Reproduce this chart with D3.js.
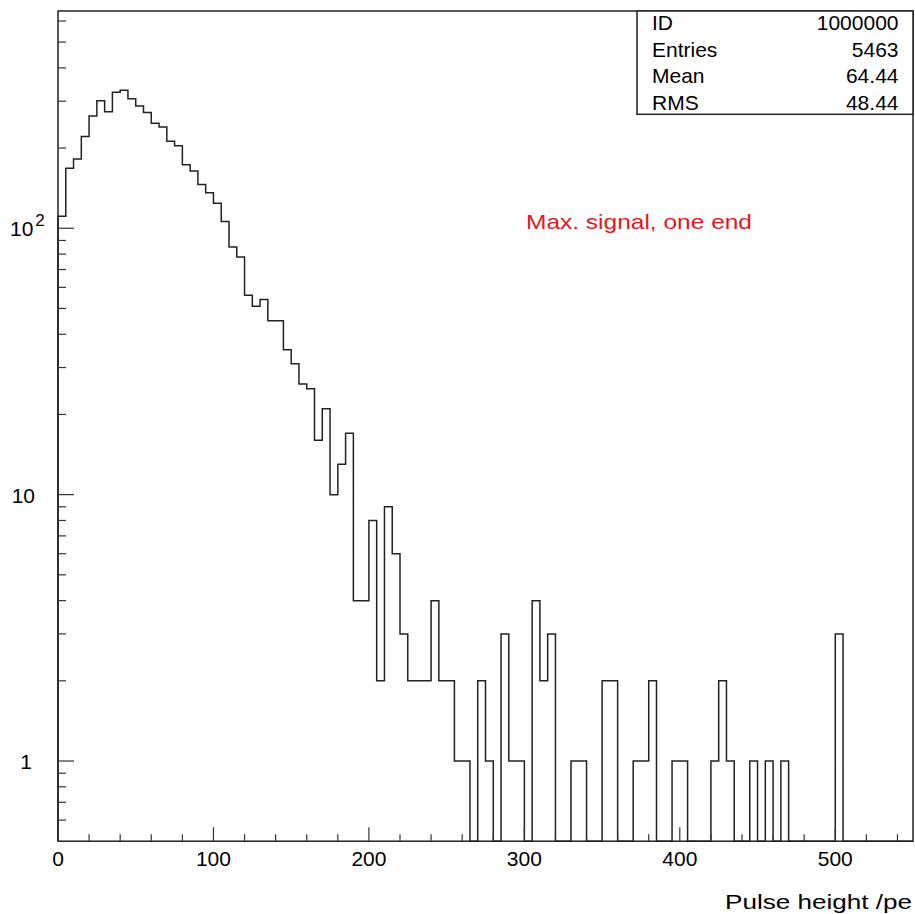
<!DOCTYPE html>
<html>
<head>
<meta charset="utf-8">
<script src="https://cdn.jsdelivr.net/npm/d3@7"></script>
<style>
  html, body { margin: 0; padding: 0; background: #fff; }
  svg { display: block; }
  text { font-family: "Liberation Sans", "DejaVu Sans", sans-serif; fill: #000; }
</style>
</head>
<body>
<svg id="chart" width="915" height="914"></svg>
<script>
// Histogram contents: pulse height in photoelectrons, 5 pe bins from 0 to 550
const binWidth = 5;
const xDomain = [0, 550];
const counts = [
  111, 168, 182, 221, 264, 301, 274, 324, 330, 306,
  288, 272, 248, 240, 212, 204, 173, 164, 146, 136,
  124, 106, 85, 78, 56, 51, 54, 45, 45, 35,
  31, 26, 25, 16, 21, 10, 13, 17, 4, 4,
  8, 2, 9, 6, 3, 2, 2, 2, 4, 2,
  2, 1, 1, 0, 2, 1, 0, 3, 1, 1,
  0, 4, 2, 3, 0, 0, 1, 1, 0, 0,
  2, 2, 0, 0, 1, 1, 2, 0, 0, 1,
  1, 0, 0, 0, 1, 2, 1, 0, 0, 1,
  0, 1, 0, 1, 0, 0, 0, 0, 0, 0,
  3, 0, 0, 0, 0, 0, 0, 0, 0, 0
];
const yDomain = [0.5, 654];

// Axis tick values and labels
const xMajorTicks = [0, 100, 200, 300, 400, 500];
const xMinorTicks = [20, 40, 60, 80, 120, 140, 160, 180, 220, 240, 260, 280, 320, 340, 360, 380, 420, 440, 460, 480, 520, 540];
const yMajorTicks = [1, 10, 100];
const yMinorTicks = [0.6, 0.7, 0.8, 0.9, 2, 3, 4, 5, 6, 7, 8, 9, 20, 30, 40, 50, 60, 70, 80, 90, 200, 300, 400, 500, 600];

// Statistics box
const statNames = ["ID", "Entries", "Mean", "RMS"];
const statValues = ["1000000", "5463", "64.44", "48.44"];

const titleX = "Pulse height /pe";
const note = "Max. signal, one end";

const svg = d3.select("#chart");
const L = 58, R = 913, T = 11, B = 841.2;

const x = d3.scaleLinear().domain(xDomain).range([L, R]);
const y = d3.scaleLog().domain(yDomain).range([B, T]);

// Step outline of the histogram; empty bins fall to the lower edge
const pts = [[x(0), B]];
counts.forEach((c, i) => {
  const yy = c > 0 ? y(Math.max(c, yDomain[0])) : B;
  pts.push([x(i * binWidth), yy]);
  pts.push([x((i + 1) * binWidth), yy]);
});
pts.push([x(counts.length * binWidth), B]);

svg.append("path")
  .attr("d", d3.line()(pts))
  .attr("fill", "none")
  .attr("stroke", "#222")
  .attr("stroke-width", 1.5)
  .attr("stroke-linejoin", "miter");

// Frame
svg.append("rect")
  .attr("x", L).attr("y", T)
  .attr("width", R - L).attr("height", B - T)
  .attr("fill", "none")
  .attr("stroke", "#222")
  .attr("stroke-width", 1.5);

// X axis ticks
const gx = svg.append("g");
gx.selectAll("line.maj").data(xMajorTicks).join("line")
  .attr("x1", d => x(d)).attr("x2", d => x(d))
  .attr("y1", B).attr("y2", B - 14)
  .attr("stroke", "#333").attr("stroke-width", 1.2);
gx.selectAll("line.min").data(xMinorTicks).join("line")
  .attr("x1", d => x(d)).attr("x2", d => x(d))
  .attr("y1", B).attr("y2", B - 7)
  .attr("stroke", "#333").attr("stroke-width", 1.2);
gx.selectAll("text").data(xMajorTicks).join("text")
  .attr("x", d => x(d)).attr("y", 866)
  .attr("text-anchor", "middle")
  .attr("font-size", 21)
  .text(d => d);

// Y axis ticks
const gy = svg.append("g");
gy.selectAll("line.maj").data(yMajorTicks).join("line")
  .attr("x1", L).attr("x2", L + 16)
  .attr("y1", d => y(d)).attr("y2", d => y(d))
  .attr("stroke", "#333").attr("stroke-width", 1.2);
gy.selectAll("line.min").data(yMinorTicks).join("line")
  .attr("x1", L).attr("x2", L + 8)
  .attr("y1", d => y(d)).attr("y2", d => y(d))
  .attr("stroke", "#333").attr("stroke-width", 1.2);

// Y labels: 1, 10, 10^2
gy.append("text").attr("x", 32).attr("y", y(1) + 8)
  .attr("text-anchor", "end").attr("font-size", 21).text("1");
gy.append("text").attr("x", 35).attr("y", y(10) + 8)
  .attr("text-anchor", "end").attr("font-size", 21).text("10");
const t100 = gy.append("text").attr("x", 10).attr("y", y(100) + 8).attr("font-size", 21);
t100.append("tspan").text("10");
t100.append("tspan").attr("dx", 2).attr("dy", -10).attr("font-size", 17).text("2");

// X axis title
svg.append("text")
  .attr("x", 912).attr("y", 909)
  .attr("text-anchor", "end")
  .attr("font-size", 21)
  .attr("textLength", 187).attr("lengthAdjust", "spacingAndGlyphs")
  .text(titleX);

// Annotation
svg.append("text")
  .attr("x", 526).attr("y", 229)
  .attr("font-size", 21)
  .attr("textLength", 226).attr("lengthAdjust", "spacingAndGlyphs")
  .style("fill", "#e8141e")
  .text(note);

// Statistics box
const boxL = 637, boxT = 11, boxR = 913, boxB = 114.3;
svg.append("rect")
  .attr("x", boxL).attr("y", boxT)
  .attr("width", boxR - boxL).attr("height", boxB - boxT)
  .attr("fill", "#fff").attr("stroke", "#222").attr("stroke-width", 1.5);
const rowY = [30, 56.5, 83, 109.5];
statNames.forEach((n, i) => {
  svg.append("text").attr("x", 652).attr("y", rowY[i])
    .attr("font-size", 21).text(n);
  svg.append("text").attr("x", 898.5).attr("y", rowY[i])
    .attr("text-anchor", "end").attr("font-size", 21).text(statValues[i]);
});
</script>
</body>
</html>
